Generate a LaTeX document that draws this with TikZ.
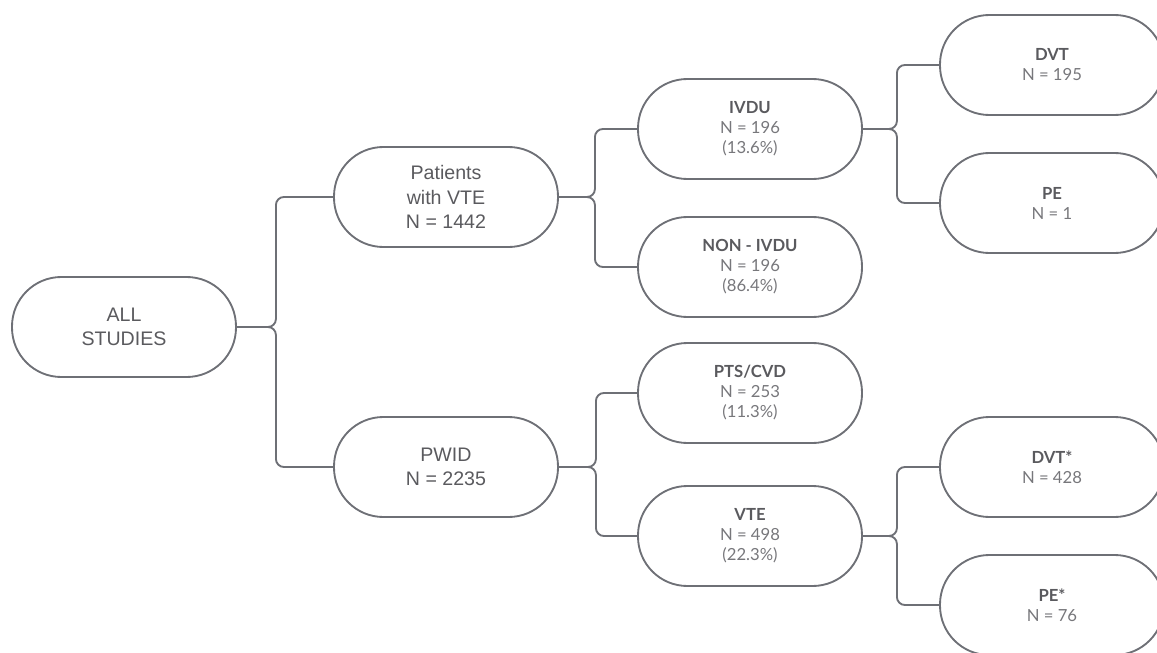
\documentclass[tikz,border=0pt]{standalone}
\usepackage{fontspec}
\setmainfont{Liberation Sans}
\newfontfamily\latofont{Lato}
\usetikzlibrary{positioning}

\definecolor{linegray}{HTML}{6E7076}
\definecolor{textgray}{HTML}{5A5A5E}
\definecolor{numgray}{HTML}{77777B}

\begin{document}
\begin{tikzpicture}[
      x=0.75pt, y=-0.75pt,
      box/.style={draw=linegray, line width=1.4pt, rounded corners=37pt, align=center,
        minimum width=168pt, minimum height=75pt, text=textgray,
        font=\fontsize{14.7}{18.4}\selectfont},
      leaf/.style={box, font=\latofont\fontsize{12.5}{15}\selectfont},
      link/.style={draw=linegray, line width=1.4pt, rounded corners=6pt}
    ]
    \clip (0,0) rectangle (1157,653);
    \node[box] (all) at (124,327) {ALL\\STUDIES};
    \node[box] (vte) at (446,197) {Patients\\with VTE\\N = 1442};
    \node[box] (pwid) at (446,467) {PWID\\N = 2235};
    \node[leaf] (ivdu) at (750,129) {\textbf{IVDU}\\\color{numgray}N = 196\\\color{numgray}(13.6\%)};
    \node[leaf] (nonivdu) at (750,267) {\textbf{NON - IVDU}\\\color{numgray}N = 196\\\color{numgray}(86.4\%)};
    \node[leaf] (pts) at (750,393) {\textbf{PTS/CVD}\\\color{numgray}N = 253\\\color{numgray}(11.3\%)};
    \node[leaf] (vtesub) at (750,536) {\textbf{VTE}\\\color{numgray}N = 498\\\color{numgray}(22.3\%)};
    \node[leaf] (dvt) at (1052,65) {\textbf{DVT}\\\color{numgray}N = 195};
    \node[leaf] (pe) at (1052,203) {\textbf{PE}\\\color{numgray}N = 1};
    \node[leaf] (dvtstar) at (1052,467) {\textbf{DVT*}\\\color{numgray}N = 428};
    \node[leaf] (pestar) at (1052,605) {\textbf{PE*}\\\color{numgray}N = 76};
    % brackets
    \draw[link] (all.east) -- ++(39,0) |- (vte.west);
    \draw[link] (all.east) -- ++(39,0) |- (pwid.west);
    \draw[link] (vte.east) -- ++(36,0) |- (ivdu.west);
    \draw[link] (vte.east) -- ++(36,0) |- (nonivdu.west);
    \draw[link] (pwid.east) -- ++(37,0) |- (pts.west);
    \draw[link] (pwid.east) -- ++(37,0) |- (vtesub.west);
    \draw[link] (ivdu.east) -- ++(34,0) |- (dvt.west);
    \draw[link] (ivdu.east) -- ++(34,0) |- (pe.west);
    \draw[link] (vtesub.east) -- ++(34,0) |- (dvtstar.west);
    \draw[link] (vtesub.east) -- ++(34,0) |- (pestar.west);
  \end{tikzpicture}
\end{document}
